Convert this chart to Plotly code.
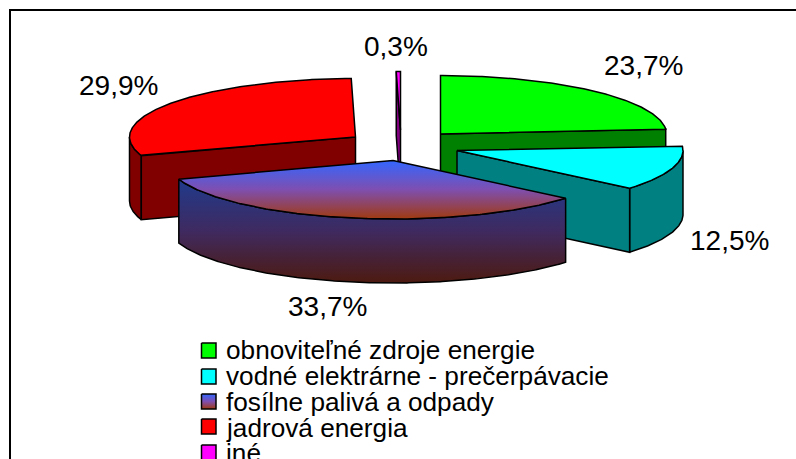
import numpy as np
import plotly.graph_objects as go

# ---- data ----
categories = ["obnoviteľné zdroje energie", "vodné elektrárne - prečerpávacie",
              "fosílne palivá a odpady", "jadrová energia", "iné"]
values = [23.7, 12.5, 33.7, 29.9, 0.3]
labels = ["23,7%", "12,5%", "33,7%", "29,9%", "0,3%"]

# ---- styling / geometry of the exploded 3-D pie ----
top_colors = ["#00FF00", "#00FFFF", None, "#FF0000", "#FF00FF"]
wall_colors = ["#008000", "#008080", None, "#800000", "#800080"]
apexes = [(440.5, 134), (457, 150.5), (393, 160.5), (355.5, 137), (400.5, 130)]
label_pos = [(643, 65), (729, 240), (327, 306), (118, 85), (396, 46)]
RX, RY, DEPTH = 226, 58.5, 64
FONT = "Liberation Sans"
LABEL_SIZE, LEGEND_SIZE = 28, 26.2
legend_y = [350, 376, 402, 428, 453]
legend_box_top = [343, 369, 394, 419, 445]
GRAD_TOP = [[0, "#A03A10"], [0.5, "#7F4FB0"], [1, "#3366FF"]]
GRAD_WALL = [[0, "#4D1A10"], [0.5, "#3F2A60"], [1, "#1F3A8C"]]

fig = go.Figure()


def rim(c, a0, a1):
    t = np.radians(np.linspace(a0, a1, max(int(abs(a1 - a0) * 2), 2)))
    return c[0] + RX * np.sin(t), c[1] - RY * np.cos(t)


def poly(xs, ys, color=None, gradient=None, lw=1.5):
    kw = dict(fillgradient=dict(type="vertical", colorscale=gradient)) if gradient else dict(fillcolor=color)
    fig.add_trace(go.Scatter(x=list(xs) + [xs[0]], y=list(ys) + [ys[0]], mode="lines", fill="toself",
                             line=dict(color="black", width=lw), hoverinfo="skip", showlegend=False, **kw))


def wall(c, a0, a1, color=None, gradient=None):
    x, y = rim(c, a0, a1)
    poly(np.r_[x, x[::-1]], np.r_[y, y[::-1] + DEPTH], color, gradient)


def cut(c, a, color=None, gradient=None):
    x, y = rim(c, a, a)
    x, y = x[0], y[0]
    poly([c[0], x, x, c[0]], [c[1], y, y + DEPTH, c[1] + DEPTH], color, gradient)


def top(c, a0, a1, color=None, gradient=None):
    x, y = rim(c, a0, a1)
    poly(np.r_[c[0], x], np.r_[c[1], y], color, gradient)


# start / end angle of each slice, clockwise from 12 o'clock
edges = np.r_[0, np.cumsum(values)] / sum(values) * 360
span = [(edges[i], edges[i + 1]) for i in range(len(values))]
G, C, F, R, P = 0, 1, 2, 3, 4

# back to front: iné, jadrová, obnoviteľné, vodné, fosílne
cut(apexes[P], span[P][0], wall_colors[P])
top(apexes[P], *span[P], top_colors[P])

wall(apexes[R], span[R][0], 270, wall_colors[R])
cut(apexes[R], span[R][0], wall_colors[R])
top(apexes[R], *span[R], top_colors[R])

cut(apexes[G], span[G][1], wall_colors[G])
top(apexes[G], *span[G], top_colors[G])

wall(apexes[C], 90, span[C][1], wall_colors[C])
cut(apexes[C], span[C][1], wall_colors[C])
top(apexes[C], *span[C], top_colors[C])

wall(apexes[F], *span[F], gradient=GRAD_WALL)
top(apexes[F], *span[F], gradient=GRAD_TOP)

# legend swatches
for i, yt in enumerate(legend_box_top):
    xs, ys = [201.5, 216, 216, 201.5], [yt, yt, yt + 15, yt + 15]
    if i == F:
        poly(xs, ys, gradient=GRAD_TOP, lw=1.5)
    else:
        poly(xs, ys, top_colors[i], lw=1.5)

ann = []
for lab, (x, y) in zip(labels, label_pos):
    ann.append(dict(x=x, y=y, text=lab, showarrow=False, xanchor="center", yanchor="middle",
                    font=dict(family=FONT, size=LABEL_SIZE, color="black")))
for name, y in zip(categories, legend_y):
    ann.append(dict(x=223.5, y=y, text=name, showarrow=False, xanchor="left", yanchor="middle",
                    font=dict(family=FONT, size=LEGEND_SIZE, color="black")))

fig.update_layout(
    width=796, height=459, autosize=False, margin=dict(l=0, r=0, t=0, b=0),
    paper_bgcolor="white", plot_bgcolor="white", showlegend=False, annotations=ann,
    xaxis=dict(range=[0, 796], visible=False, fixedrange=True),
    yaxis=dict(range=[459, 0], visible=False, fixedrange=True),
    shapes=[dict(type="rect", x0=10, y0=10, x1=830, y1=490, line=dict(color="black", width=2))],
)
fig.write_html("out.html", config=dict(displayModeBar=False),
               post_script="document.body.style.margin='0';")
